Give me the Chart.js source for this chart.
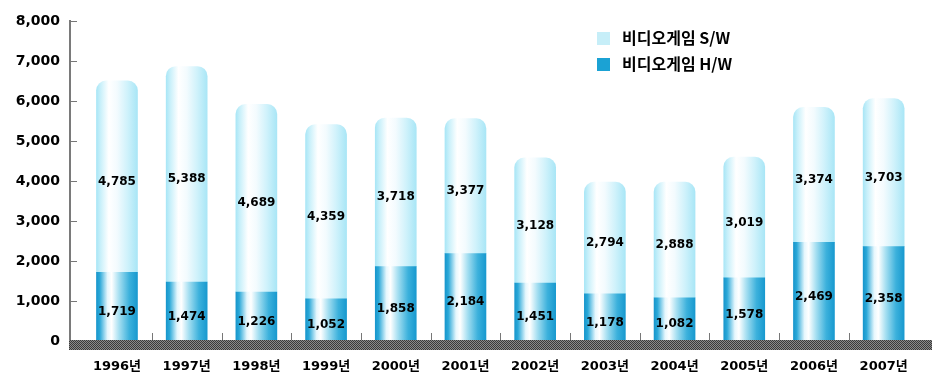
<!DOCTYPE html>
<html>
<head>
<meta charset="utf-8">
<script src="https://cdn.jsdelivr.net/npm/chart.js@4.4.0/dist/chart.umd.min.js"></script>
<style>
  html, body { margin: 0; padding: 0; background: #fff; }
  #wrap { position: relative; width: 932px; height: 380px; }
  #legend { position: absolute; left: 597px; top: 25px; font: bold 16px "Noto Sans CJK KR", sans-serif; color: #000; }
  #legend div { height: 26px; line-height: 24px; white-space: nowrap; }
  #legend span.sw { display: inline-block; width: 13px; height: 13px; margin-right: 12px; vertical-align: -1px; }
</style>
</head>
<body>
<div id="wrap">
  <canvas id="chart" width="932" height="380"></canvas>
  <div id="legend"></div>
</div>
<script>
const categories = ['1996년', '1997년', '1998년', '1999년', '2000년', '2001년', '2002년', '2003년', '2004년', '2005년', '2006년', '2007년'];
const hwValues = [1719, 1474, 1226, 1052, 1858, 2184, 1451, 1178, 1082, 1578, 2469, 2358];
const swValues = [4785, 5388, 4689, 4359, 3718, 3377, 3128, 2794, 2888, 3019, 3374, 3703];
const seriesNames = ['비디오게임 S/W', '비디오게임 H/W'];
const yTicks = [0, 1000, 2000, 3000, 4000, 5000, 6000, 7000, 8000];

const BAR_W = 41;
const fmt = (v) => v.toLocaleString('en-US');

// horizontal "cylinder" gradient per bar, positioned from the x scale
function barFill(stops, fallback) {
  return (c) => {
    const xs = c.chart.scales.x;
    if (c.type !== 'data' || !xs) return fallback;
    const cx = xs.getPixelForValue(c.dataIndex);
    if (!isFinite(cx)) return fallback;
    const g = c.chart.ctx.createLinearGradient(cx - BAR_W / 2, 0, cx + BAR_W / 2, 0);
    stops.forEach(s => g.addColorStop(s[0], s[1]));
    return g;
  };
}

const hwStops = [[0, '#1896cc'], [0.08, '#2aa8d8'], [0.27, '#e6f7fd'], [0.37, '#ffffff'], [0.55, '#a6dff1'], [0.8, '#3cb1dc'], [1, '#1899cf']];
const swStops = [[0, '#a9e6f6'], [0.1, '#c9f0fa'], [0.3, '#ffffff'], [0.5, '#f3fbfe'], [0.75, '#d0f2fb'], [1, '#a9e6f6']];

// small checker for the base band
const pat = document.createElement('canvas');
pat.width = 2; pat.height = 2;
const pc = pat.getContext('2d');
pc.fillStyle = '#8a8a8a'; pc.fillRect(0, 0, 2, 2);
pc.fillStyle = '#3a3a3a'; pc.fillRect(0, 0, 1, 1); pc.fillRect(1, 1, 1, 1);

const decorations = {
  id: 'decorations',
  afterDatasetsDraw(chart) {
    const ctx = chart.ctx;
    const xs = chart.scales.x, ys = chart.scales.y;
    const area = chart.chartArea;
    const y0 = ys.getPixelForValue(0);
    ctx.save();
    // inward y ticks
    ctx.strokeStyle = '#777';
    ctx.lineWidth = 1;
    yTicks.forEach(t => {
      const y = Math.round(ys.getPixelForValue(t)) + 0.5;
      ctx.beginPath(); ctx.moveTo(area.left, y); ctx.lineTo(area.left + 7, y); ctx.stroke();
    });
    // tick marks between categories
    for (let i = 0; i < categories.length - 1; i++) {
      const x = Math.round(xs.getPixelForValue(i + 0.5)) + 0.5;
      ctx.beginPath(); ctx.moveTo(x, y0 - 8); ctx.lineTo(x, y0); ctx.stroke();
    }
    // base band
    ctx.fillStyle = ctx.createPattern(pat, 'repeat');
    ctx.fillRect(area.left - 1, y0 - 1, chart.width - area.left + 1, 10);

    // value labels
    ctx.fillStyle = '#000';
    ctx.font = 'bold 12px "DejaVu Sans", sans-serif';
    ctx.textAlign = 'center';
    ctx.textBaseline = 'middle';
    chart.data.datasets.forEach((ds, di) => {
      const meta = chart.getDatasetMeta(di);
      meta.data.forEach((bar, i) => {
        const v = ds.data[i].y;
        ctx.fillText(fmt(v), bar.x, (bar.y + bar.base) / 2 + 5);
      });
    });
    ctx.restore();
  }
};

const chart = new Chart(document.getElementById('chart'), {
  type: 'bar',
  data: {
    datasets: [
      {
        label: seriesNames[1],
        data: hwValues.map((v, i) => ({ x: i, y: v })),
        backgroundColor: barFill(hwStops, '#1ba2d4'),
        barThickness: BAR_W,
        borderWidth: 0
      },
      {
        label: seriesNames[0],
        data: swValues.map((v, i) => ({ x: i, y: v })),
        backgroundColor: barFill(swStops, '#c6eef8'),
        barThickness: BAR_W,
        borderWidth: 0,
        borderRadius: { topLeft: 10, topRight: 10, bottomLeft: 0, bottomRight: 0 },
        borderSkipped: 'bottom'
      }
    ]
  },
  options: {
    responsive: false,
    animation: false,
    layout: { padding: { top: 21, left: 0, right: 2, bottom: 0 } },
    plugins: {
      legend: { display: false },
      tooltip: { enabled: false }
    },
    scales: {
      x: {
        type: 'linear',
        stacked: true,
        offset: false,
        min: -0.674,
        max: 11.665,
        afterFit: (s) => { s.height = 39; },
        afterBuildTicks: (s) => { s.ticks = categories.map((c, i) => ({ value: i })); },
        grid: { display: false },
        border: { display: false },
        ticks: {
          autoSkip: false,
          maxRotation: 0,
          padding: 10,
          color: '#000',
          font: { family: '"DejaVu Sans", "Noto Sans CJK KR", sans-serif', size: 13, weight: 'bold' },
          callback: (v) => categories[v]
        }
      },
      y: {
        stacked: true,
        min: 0,
        max: 8000,
        afterFit: (s) => { s.width = 70; },
        grid: { display: false, drawTicks: false },
        border: { display: true, color: '#7a7a7a', width: 2, dash: [1, 1] },
        ticks: {
          stepSize: 1000,
          padding: 10,
          color: '#000',
          font: { family: '"DejaVu Sans", sans-serif', size: 14, weight: 'bold' },
          callback: (v) => fmt(v)
        }
      }
    }
  },
  plugins: [decorations]
});
chart.update();

// legend built from the series names
const legend = document.getElementById('legend');
[[seriesNames[0], '#c6eef8'], [seriesNames[1], '#1ba2d4']].forEach(([name, col]) => {
  const row = document.createElement('div');
  row.innerHTML = '<span class="sw" style="background:' + col + '"></span>' + name;
  legend.appendChild(row);
});
</script>
</body>
</html>
